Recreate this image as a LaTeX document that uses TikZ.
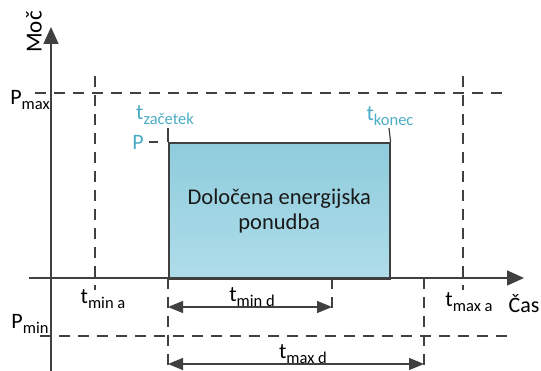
\documentclass[tikz,border=0pt]{standalone}
\usepackage{fontspec}
\setmainfont{Carlito}
\usetikzlibrary{arrows.meta}
\definecolor{axisgray}{HTML}{404040}
\definecolor{labcyan}{HTML}{4BACC6}
\definecolor{boxtop}{HTML}{8ECCDC}
\definecolor{boxbot}{HTML}{B0DDEA}
% main letter with a lowered subscript word
\newcommand{\sublab}[2]{{\fontsize{22}{23}\selectfont #1}\raisebox{-4.5pt}{\fontsize{16.5}{17}\selectfont #2}}
\tikzset{
  axisline/.style={draw=axisgray, line width=1.6pt, -{Triangle[length=17pt,width=15pt]}},
  guide/.style={draw=axisgray, line width=1.2pt, dash pattern=on 11pt off 8pt},
  tick/.style={draw=axisgray, line width=1.2pt},
  span/.style={draw=axisgray, line width=1.3pt, {Triangle[length=15pt,width=12pt]}-{Triangle[length=15pt,width=12pt]}},
  lab/.style={inner sep=0pt, text=black},
  clab/.style={inner sep=0pt, text=labcyan},
  offer/.style={draw=axisgray, line width=1.6pt, top color=boxtop, bottom color=boxbot,
    align=center, font=\fontsize{22.5}{25}\selectfont, text=black!90}
}
\begin{document}
\begin{tikzpicture}[x=1pt,y=-1pt]
\useasboundingbox (0,0) rectangle (541,371);

% reference points
\coordinate (O) at (51,278);
\coordinate (ybot) at (51,371);
\coordinate (ytop) at (51,27);
\coordinate (xleft) at (29,278);
\coordinate (xright) at (524,278);

% dashed limit lines
\coordinate (pmaxL) at (35,93);  \coordinate (pmaxR) at (507,93);
\coordinate (pminL) at (40,336); \coordinate (pminR) at (512,336);
\coordinate (tminaT) at (95,76); \coordinate (tminaB) at (95,290);
\coordinate (tmaxaT) at (463,76); \coordinate (tmaxaB) at (463,290);
\coordinate (startB) at (168,371); \coordinate (startT) at (168,278);
\coordinate (maxdT) at (424,278); \coordinate (maxdB) at (424,371);
\coordinate (mindT) at (332,278); \coordinate (mindB) at (332,312);

\draw[guide] (pmaxL) -- (pmaxR);
\draw[guide] (pminL) -- (pminR);
\draw[guide] (tminaT) -- (tminaB);
\draw[guide] (tmaxaT) -- (tmaxaB);
\draw[guide] (startT) -- (startB);
\draw[guide] (maxdT) -- (maxdB);
\draw[guide] (mindT) -- (mindB);

% offer block
\node[offer, minimum width=221pt, minimum height=136pt, anchor=north west] (box) at (168,142) {Določena energijska\\ponudba};

% ticks above the block corners
\coordinate (tzT) at (168,128);
\coordinate (tkT) at (389,128);
\draw[tick] (tzT) -- (box.north west);
\draw[tick] (tkT) -- (box.north east);

% axes
\draw[axisline] (ybot) -- (ytop);
\draw[axisline] (xleft) -- (xright);

% duration arrows
\coordinate (mindL) at (168,307); \coordinate (mindR) at (332,307);
\coordinate (maxdL) at (168,364); \coordinate (maxdR) at (424,364);
\draw[span] (mindL) -- (mindR);
\draw[span] (maxdL) -- (maxdR);

% power level P
\node[clab, font=\fontsize{22}{23}\selectfont] (plab) at (138,142) {P};
\coordinate (pdashL) at (149,142);
\coordinate (pdashR) at (158,142);
\draw[tick] (pdashL) -- (pdashR);

% labels
\node[lab, rotate=90, font=\fontsize{23}{25}\selectfont] (moc) at (34,32) {Moč};
\node[lab, font=\fontsize{22}{24}\selectfont] (cas) at (524,304) {Čas};
\node[lab] (pmax) at (30,100) {\sublab{P}{max}};
\node[lab] (pmin) at (30,324) {\sublab{P}{min}};
\node[lab] (tmina) at (103,299) {\sublab{t}{min a}};
\node[lab] (tmaxa) at (469,302) {\sublab{t}{max a}};
\node[lab] (tmind) at (252,297) {\sublab{t}{min d}};
\node[lab] (tmaxd) at (303,354) {\sublab{t}{max d}};
\node[clab] (tzac) at (165,115) {\sublab{t}{začetek}};
\node[clab] (tkon) at (390,116) {\sublab{t}{konec}};
\end{tikzpicture}
\end{document}
